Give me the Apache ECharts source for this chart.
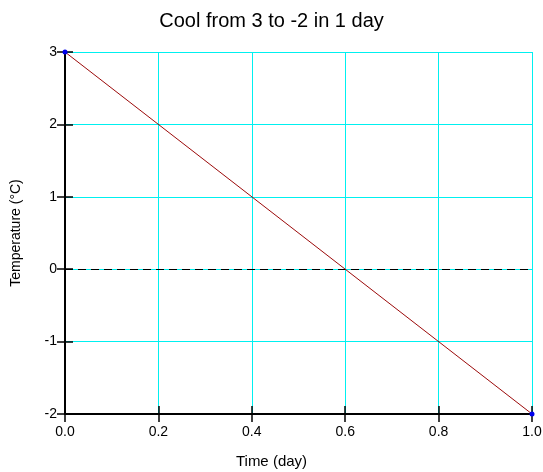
<!DOCTYPE html>
<html>
<head>
<meta charset="utf-8">
<script src="https://cdn.jsdelivr.net/npm/echarts@6/dist/echarts.min.js"></script>
<style>
html,body{margin:0;padding:0;background:#fff;}
#chart{width:543px;height:472px;}
</style>
</head>
<body>
<div id="chart"></div>
<script>
// Cooling curve: temperature falls linearly from 3 °C to -2 °C over one day
var timeDays = [0.0, 1.0];
var temperature = [3, -2];
var xTicks = [0.0, 0.2, 0.4, 0.6, 0.8, 1.0];
var yTicks = [-2, -1, 0, 1, 2, 3];
var referenceLevel = 0;

var FONT = '"Liberation Sans", Arial, sans-serif';
var points = timeDays.map(function (t, i) { return [t, temperature[i]]; });

var chart = echarts.init(document.getElementById('chart'), null, { renderer: 'canvas' });

function xAxisBase(extra) {
  return Object.assign({
    type: 'value',
    min: xTicks[0],
    max: xTicks[xTicks.length - 1],
    interval: 0.2,
    position: 'bottom'
  }, extra);
}
function yAxisBase(extra) {
  return Object.assign({
    type: 'value',
    min: yTicks[0],
    max: yTicks[yTicks.length - 1],
    interval: 1,
    position: 'left'
  }, extra);
}

chart.setOption({
  animation: false,
  backgroundColor: '#ffffff',
  title: [
    {
      text: 'Cool from 3 to -2 in 1 day',
      left: 'center',
      top: 6,
      textStyle: { fontFamily: FONT, fontSize: 20, fontWeight: 'normal', color: '#000' }
    },
    {
      text: 'Time (day)',
      left: 'center',
      top: 454,
      padding: 0,
      textStyle: { fontFamily: FONT, fontSize: 15, fontWeight: 'normal', color: '#000' }
    }
  ],
  grid: { left: 65, right: 11, top: 52, bottom: 58, containLabel: false, outerBoundsMode: 'none' },
  xAxis: [
    xAxisBase({
      axisLine: { show: true, onZero: false, lineStyle: { color: '#000', width: 2 } },
      axisTick: { show: true, inside: false, length: 8, lineStyle: { color: '#000', width: 1.5 } },
      axisLabel: {
        fontFamily: FONT, fontSize: 14, color: '#000', margin: 11,
        formatter: function (v) { return v.toFixed(1); }
      },
      splitLine: { show: true, lineStyle: { color: '#00f0f0', width: 1 } }
    }),
    xAxisBase({
      axisLine: { show: false, onZero: false },
      axisTick: { show: true, inside: true, length: 8, lineStyle: { color: '#000', width: 1.5 } },
      axisLabel: { show: false },
      splitLine: { show: false }
    })
  ],
  yAxis: [
    yAxisBase({
      name: 'Temperature (°C)',
      nameLocation: 'middle',
      nameGap: 42,
      nameRotate: 90,
      nameTextStyle: { fontFamily: FONT, fontSize: 14, color: '#000' },
      axisLine: { show: true, onZero: false, lineStyle: { color: '#000', width: 2 } },
      axisTick: { show: true, inside: false, length: 8, lineStyle: { color: '#000', width: 1.5 } },
      axisLabel: { fontFamily: FONT, fontSize: 14, color: '#000', margin: 8 },
      splitLine: { show: true, lineStyle: { color: '#00f0f0', width: 1 } }
    }),
    yAxisBase({
      axisLine: { show: false, onZero: false },
      axisTick: { show: true, inside: true, length: 8, lineStyle: { color: '#000', width: 1.5 } },
      axisLabel: { show: false },
      splitLine: { show: false }
    })
  ],
  series: [
    {
      type: 'line',
      data: points,
      xAxisIndex: 0,
      yAxisIndex: 0,
      symbol: 'circle',
      symbolSize: 5,
      showSymbol: true,
      itemStyle: { color: '#0000ee' },
      lineStyle: { color: '#9b0a0a', width: 1 },
      z: 5,
      markLine: {
        silent: true,
        symbol: ['none', 'none'],
        label: { show: false },
        lineStyle: { color: '#000', type: [8, 5], width: 1.2 },
        data: [{ yAxis: referenceLevel }],
        z: 3
      }
    }
  ]
});
</script>
</body>
</html>
